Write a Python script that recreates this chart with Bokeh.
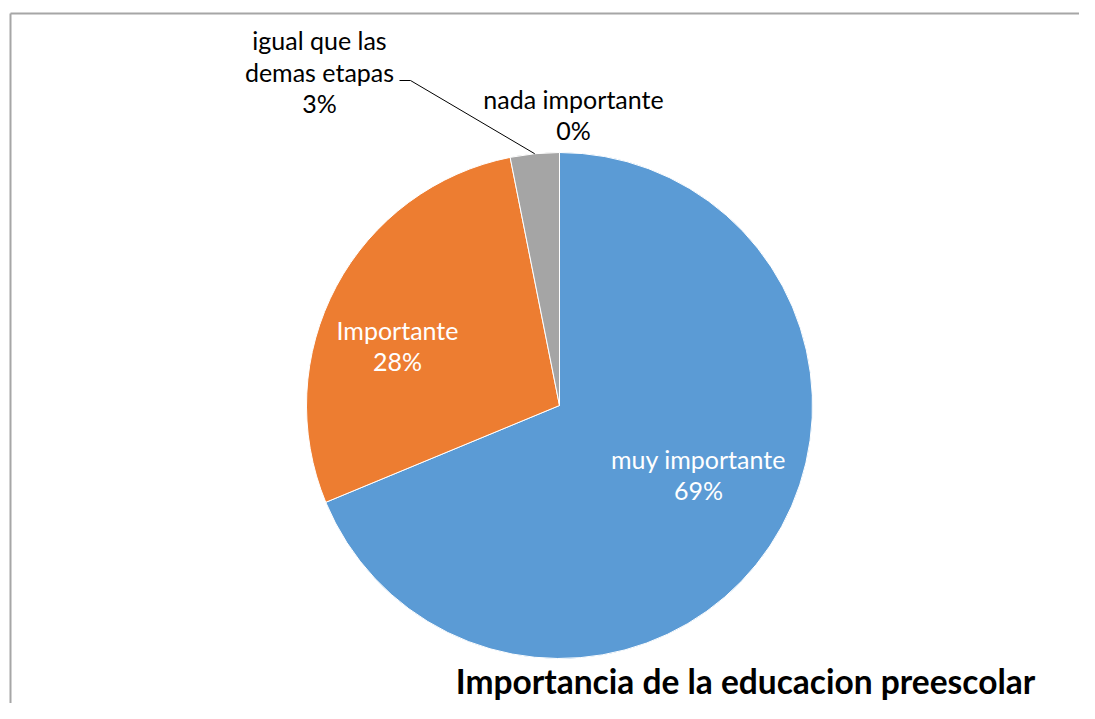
import math
from bokeh.plotting import figure
from bokeh.models import Range1d, ColumnDataSource
from bokeh.core.properties import value
from bokeh.embed import file_html
from bokeh.resources import INLINE

# ---- data ----
categories = ["muy importante", "Importante", "igual que las\ndemas etapas", "nada importante"]
counts = [22, 9, 1, 0]
colors = ["#5B9BD5", "#ED7D31", "#A5A5A5", "#FFC000"]
title_text = "Importancia de la educacion preescolar"

W, H = 1079, 703
FONT = "Lato"

def fx(px):  # screenshot x -> figure x
    return px

def fy(py):  # screenshot y -> figure y
    return H - py

p = figure(width=W, height=H, output_backend="svg", toolbar_location=None,
           x_range=Range1d(0, W), y_range=Range1d(0, H), min_border=0,
           background_fill_color="white", border_fill_color="white")
p.axis.visible = False
p.grid.visible = False
p.outline_line_color = None

# outer chart border (only top and left visible)
p.segment(x0=[fx(10), fx(10)], y0=[fy(13), fy(13)], x1=[fx(1200), fx(10)], y1=[fy(13), fy(800)],
          line_color="#A6A6A6", line_width=2)

cx, cy, R = fx(559), fy(405), 253
total = sum(counts)
fracs = [c / total for c in counts]
starts, ends, mids = [], [], []
acc = 0.0
for f in fracs:
    s, e = acc, acc + f
    starts.append(math.pi / 2 - 2 * math.pi * e)
    ends.append(math.pi / 2 - 2 * math.pi * s)
    mids.append(math.pi / 2 - 2 * math.pi * (s + e) / 2)
    acc = e

keep = [i for i, c in enumerate(counts) if c > 0]
src = ColumnDataSource(dict(start=[starts[i] for i in keep], end=[ends[i] for i in keep],
                            color=[colors[i] for i in keep]))
p.wedge(x=cx, y=cy, radius=R, start_angle="start", end_angle="end",
        fill_color="color", line_color="white", line_width=1, source=src)

labels = [f"{c}\n{round(f * 100)}%" for c, f in zip(categories, fracs)]
# label layout positions (screenshot coords)
lab_pos = [(698, 474), (397, 345), (319, 71), (573, 114)]
lab_col = ["white", "white", "black", "black"]
p.text(x=[fx(a) for a, b in lab_pos], y=[fy(b) for a, b in lab_pos], text=labels,
       text_color=lab_col, text_font=value(FONT), text_font_size="25px",
       text_align="center", text_baseline="middle", text_line_height=1.05)

# leader line for small slice
gx = cx + R * math.cos(mids[2])
gy = cy + R * math.sin(mids[2])
p.line(x=[fx(399), fx(410), gx], y=[fy(80), fy(80), gy], line_color="black", line_width=1)

p.text(x=[fx(745)], y=[fy(680)], text=[title_text], text_color="black",
       text_font=value(FONT), text_font_style="bold", text_font_size="33.5px",
       text_align="center", text_baseline="middle")

open("out.html", "w").write(file_html(p, INLINE))
